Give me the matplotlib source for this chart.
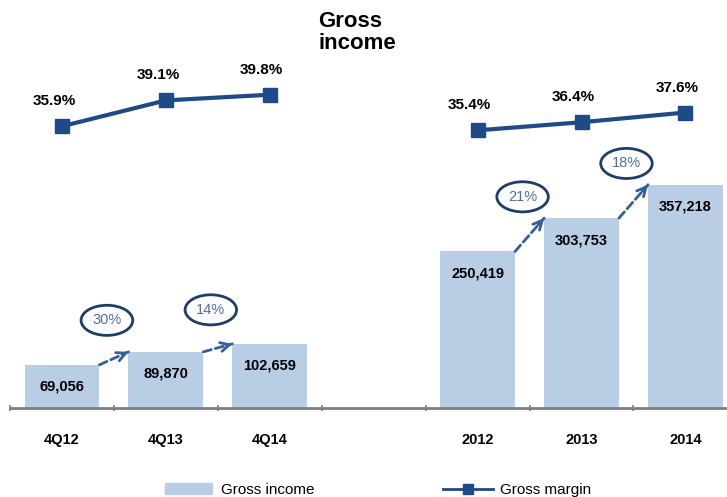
import numpy as np
import matplotlib
matplotlib.use('Agg')
import matplotlib.pyplot as plt
from matplotlib.patches import Patch
from matplotlib.lines import Line2D

plt.rcParams['font.family'] = ['Liberation Sans', 'DejaVu Sans']

# data
periods = ['4Q12', '4Q13', '4Q14', '2012', '2013', '2014']
gross_income = [69056, 89870, 102659, 250419, 303753, 357218]
gross_margin = [35.9, 39.1, 39.8, 35.4, 36.4, 37.6]
growth_labels = ['30%', '14%', '21%', '18%']
growth_pairs = [(0, 1), (1, 2), (3, 4), (4, 5)]

bar_color = '#b9cde5'
navy = '#1e4a86'
arrow_color = '#34609a'

x = np.array([0, 1, 2, 4, 5, 6])
w = 0.72

fig = plt.figure(figsize=(7.27, 4.97), dpi=100)
ax = fig.add_axes([10 / 727, 89 / 497, 717 / 727, 408 / 497])

ax.bar(x, gross_income, width=w, color=bar_color, zorder=2)
ax.set_xlim(-0.5, 6.4)
ax.set_ylim(0, 652800)

for xi, v in zip(x, gross_income):
    ax.annotate(f'{v:,}', xy=(xi, v), xytext=(0, -22), textcoords='offset pixels',
                ha='center', va='center', fontsize=10.5, fontweight='bold', zorder=5)

# growth arrows and ellipses
for (i, j), lab in zip(growth_pairs, growth_labels):
    x0, y0 = x[i] + w / 2, gross_income[i]
    x1, y1 = x[j] - w / 2, gross_income[j]
    ax.annotate('', xy=(x1, y1), xytext=(x0, y0),
                arrowprops=dict(arrowstyle='-', linestyle=(0, (3, 1.5)), color=arrow_color,
                                lw=2, shrinkA=0, shrinkB=0), zorder=4)
    xm, ym = x0 + 0.8 * (x1 - x0), y0 + 0.8 * (y1 - y0)
    ax.annotate('', xy=(x1, y1), xytext=(xm, ym),
                arrowprops=dict(arrowstyle='->', color=arrow_color, lw=2,
                                shrinkA=0, shrinkB=0, mutation_scale=16), zorder=4)
    ax.annotate(lab, xy=((x0 + x1) / 2, (y0 + y1) / 2), xytext=(-7, 38),
                textcoords='offset pixels', ha='center', va='center',
                fontsize=10.5, color='#4f6f9c', zorder=5,
                bbox=dict(boxstyle='ellipse,pad=0.25', fc='white', ec='#1f3d69', lw=2))

# axis styling
for s in ['top', 'left', 'right']:
    ax.spines[s].set_visible(False)
ax.spines['bottom'].set_color('#7f7f7f')
ax.spines['bottom'].set_linewidth(2)
ax.set_yticks([])
ax.set_xticks(x)
ax.set_xticklabels(periods, fontsize=10.5, fontweight='bold')
ax.tick_params(axis='x', which='major', length=0, pad=18)
ax.set_xticks(np.arange(-0.5, 6, 1.0), minor=True)
ax.tick_params(axis='x', which='minor', length=5, direction='inout', color='#7f7f7f', width=1.2)

# gross margin line on its own scale
ax2 = ax.twinx()
ax2.set_ylim(1.1, 51.5)
for s in ax2.spines.values():
    s.set_visible(False)
ax2.set_yticks([])
for seg in [slice(0, 3), slice(3, 6)]:
    ax2.plot(x[seg], gross_margin[seg], color=navy, lw=3, marker='s', markersize=9.5,
             markerfacecolor=navy, markeredgecolor=navy)
for xi, v in zip(x, gross_margin):
    ax2.annotate(f'{v}%', xy=(xi, v), xytext=(-8, 25), textcoords='offset pixels',
                 ha='center', va='center', fontsize=11, fontweight='bold')

fig.text(318 / 727, 1 - 11 / 497, 'Gross\nincome', ha='left', va='top',
         fontsize=16, fontweight='bold', linespacing=1.05)

leg1 = fig.legend(handles=[Patch(color=bar_color, label='Gross income')],
                  loc='center left', bbox_to_anchor=(165 / 727, 7 / 497), frameon=False,
                  fontsize=11, handlelength=3.1, handletextpad=0.55, borderpad=0,
                  borderaxespad=0)
leg2 = fig.legend(handles=[Line2D([0], [0], color=navy, lw=2, marker='s', markersize=7,
                                  label='Gross margin')],
                  loc='center left', bbox_to_anchor=(443 / 727, 7 / 497), frameon=False,
                  fontsize=11, handlelength=3.3, handletextpad=0.4, borderpad=0,
                  borderaxespad=0)

fig.savefig('out.png', dpi=100)
